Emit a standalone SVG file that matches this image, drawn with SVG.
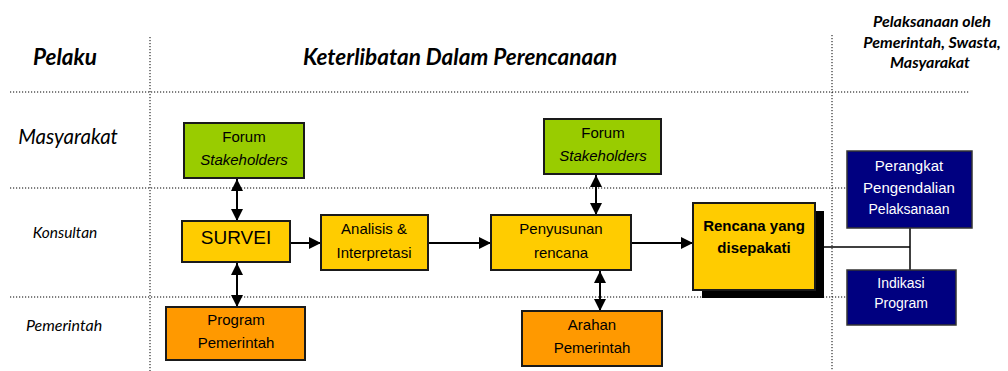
<svg xmlns="http://www.w3.org/2000/svg" width="1008" height="371" viewBox="0 0 1008 371">
<style>
.grid{stroke:#000;stroke-width:1;stroke-dasharray:1.2 1.8;fill:none}
.hdr{font-family:Lato,"Liberation Sans",sans-serif;font-weight:bold;font-style:italic;fill:#000;text-anchor:middle}
.lane{font-family:Lato,"Liberation Sans",sans-serif;font-style:italic;fill:#000;text-anchor:middle}
.t{font-family:"Liberation Sans",Arial,sans-serif;font-size:15px;fill:#000;text-anchor:middle}
.s14{font-size:14px}
.s19{font-size:19px}
.it{font-style:italic}
.b{font-weight:bold}
.w{fill:#fff}
.box{stroke:#1a1a1a;stroke-width:2}
.green{fill:#99CC00}
.yellow{fill:#FFCC00}
.orange{fill:#FF9900}
.navy{fill:#000080;stroke:#333;stroke-width:1.5}
.arrow{stroke:#000;stroke-width:2;fill:none}
.plain{stroke:#000;stroke-width:1.5;fill:none}
</style>
<defs>
<marker id="ah" viewBox="0 0 10 10" refX="10" refY="5" markerWidth="12" markerHeight="12" markerUnits="userSpaceOnUse" orient="auto-start-reverse">
<path d="M0,0 L10,5 L0,10 z" fill="#000"/>
</marker>
</defs>
<rect width="1008" height="371" fill="#fff"/>
<g id="grid">
<line class="grid" x1="150" y1="37" x2="150" y2="371"/>
<line class="grid" x1="832" y1="35" x2="832" y2="371"/>
<line class="grid" x1="10" y1="92" x2="970" y2="92"/>
<line class="grid" x1="10" y1="188" x2="847" y2="188"/>
<line class="grid" x1="10" y1="297" x2="847" y2="297"/>
</g>
<g id="headers">
<text class="hdr" x="65" y="65" style="font-size:22.5px">Pelaku</text>
<text class="hdr" x="460" y="65" style="font-size:22.5px">Keterlibatan Dalam Perencanaan</text>
<text class="hdr" x="932" y="27" style="font-size:16px">Pelaksanaan oleh</text>
<text class="hdr" x="932" y="48" style="font-size:16px">Pemerintah, Swasta,</text>
<text class="hdr" x="930" y="68" style="font-size:16px">Masyarakat</text>
<text class="lane" x="68" y="144" style="font-size:20.5px">Masyarakat</text>
<text class="lane" x="65" y="238" style="font-size:15.5px">Konsultan</text>
<text class="lane" x="64" y="331" style="font-size:16px">Pemerintah</text>
</g>
<g id="connectors">
<line class="arrow" x1="237" y1="179" x2="237" y2="221" marker-start="url(#ah)" marker-end="url(#ah)"/>
<line class="arrow" x1="237" y1="263" x2="237" y2="307" marker-start="url(#ah)" marker-end="url(#ah)"/>
<line class="arrow" x1="288" y1="243" x2="321" y2="243" marker-end="url(#ah)"/>
<line class="arrow" x1="428" y1="243" x2="491" y2="243" marker-end="url(#ah)"/>
<line class="arrow" x1="596" y1="175" x2="596" y2="215" marker-start="url(#ah)" marker-end="url(#ah)"/>
<line class="arrow" x1="600" y1="271" x2="600" y2="311" marker-start="url(#ah)" marker-end="url(#ah)"/>
<line class="arrow" x1="631" y1="243" x2="693" y2="243" marker-end="url(#ah)"/>
<line class="plain" x1="824" y1="247" x2="910" y2="247"/>
<line class="plain" x1="910" y1="228" x2="910" y2="270"/>
</g>
<g id="forum1">
<rect class="box green" x="184" y="123" width="120" height="55"/>
<text class="t" x="244" y="142">Forum</text>
<text class="t it" x="244" y="165">Stakeholders</text>
</g>
<g id="survei">
<rect class="box yellow" x="182" y="221" width="108" height="41"/>
<text class="t s19" x="236" y="244">SURVEI</text>
</g>
<g id="program">
<rect class="box orange" x="166" y="307" width="139" height="53"/>
<text class="t" x="236" y="325">Program</text>
<text class="t" x="236" y="348">Pemerintah</text>
</g>
<g id="analisis">
<rect class="box yellow" x="321" y="215" width="107" height="55"/>
<text class="t" x="374" y="234">Analisis &amp;</text>
<text class="t" x="374" y="258">Interpretasi</text>
</g>
<g id="forum2">
<rect class="box green" x="544" y="119" width="117" height="55"/>
<text class="t" x="603" y="138">Forum</text>
<text class="t it" x="603" y="161">Stakeholders</text>
</g>
<g id="penyusunan">
<rect class="box yellow" x="491" y="215" width="140" height="55"/>
<text class="t" x="561" y="234">Penyusunan</text>
<text class="t" x="561" y="258">rencana</text>
</g>
<g id="arahan">
<rect class="box orange" x="522" y="311" width="140" height="55"/>
<text class="t" x="592" y="330">Arahan</text>
<text class="t" x="592" y="353">Pemerintah</text>
</g>
<g id="rencana">
<rect x="702" y="211" width="122" height="87" fill="#000"/>
<rect class="box yellow" x="693" y="203" width="122" height="87"/>
<text class="t b" x="754" y="231">Rencana yang</text>
<text class="t b" x="754" y="253">disepakati</text>
</g>
<g id="perangkat">
<rect class="navy" x="847" y="151" width="125" height="77"/>
<text class="t w" x="909" y="171">Perangkat</text>
<text class="t w" x="909" y="193">Pengendalian</text>
<text class="t w s14" x="909" y="214">Pelaksanaan</text>
</g>
<g id="indikasi">
<rect class="navy" x="847" y="270" width="109" height="55"/>
<text class="t w s14" x="901" y="288">Indikasi</text>
<text class="t w s14" x="901" y="308">Program</text>
</g>
</svg>
